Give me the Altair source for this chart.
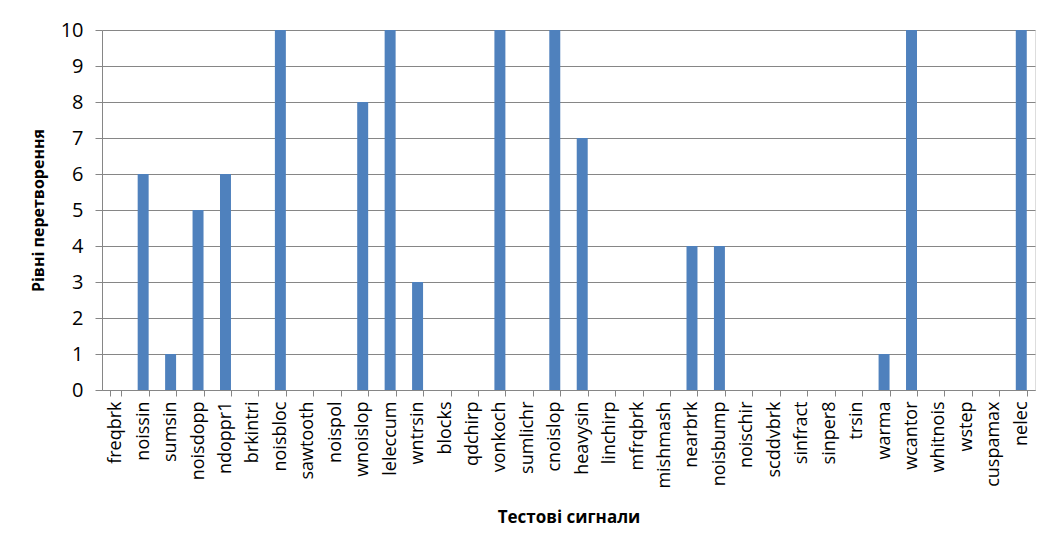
import altair as alt
import pandas as pd

signals = ["freqbrk", "noissin", "sumsin", "noisdopp", "ndoppr1", "brkintri", "noisbloc",
           "sawtooth", "noispol", "wnoislop", "leleccum", "wntrsin", "blocks", "qdchirp",
           "vonkoch", "sumlichr", "cnoislop", "heavysin", "linchirp", "mfrqbrk", "mishmash",
           "nearbrk", "noisbump", "noischir", "scddvbrk", "sinfract", "sinper8", "trsin",
           "warma", "wcantor", "whitnois", "wstep", "cuspamax", "nelec"]
levels = [0, 6, 1, 5, 6, 0, 10, 0, 0, 8, 10, 3, 0, 0, 10, 0, 10, 7, 0, 0, 0,
          4, 4, 0, 0, 0, 0, 0, 1, 10, 0, 0, 0, 10]
y_ticks = list(range(0, 11))

df = pd.DataFrame({"signal": signals, "level": levels})

FONT = "Open Sans"

chart = alt.Chart(df).mark_bar(color="#4F81BD").encode(
    x=alt.X("signal:N", sort=signals,
            scale=alt.Scale(paddingInner=0.6, paddingOuter=0.3),
            axis=alt.Axis(title="Тестові сигнали", labelAngle=-90, labelAlign="right",
                          labelBaseline="middle", labelFontSize=18, labelFont=FONT,
                          labelColor="#000000", titleFont=FONT, titleFontSize=17,
                          titleFontWeight="bold", titleColor="#000000", titlePadding=21,
                          tickBand="extent", tickSize=6, tickColor="#868686",
                          domainColor="#868686", labelPadding=5, grid=False,
                          labelLimit=200)),
    y=alt.Y("level:Q", scale=alt.Scale(domain=[0, 10], nice=False),
            axis=alt.Axis(title="Рівні перетворення", values=y_ticks, labelFontSize=20,
                          labelFont=FONT, labelColor="#000000", titleFont=FONT,
                          titleFontSize=16, titleFontWeight="bold", titleColor="#000000",
                          titlePadding=14, tickSize=7, tickColor="#868686",
                          domainColor="#868686", gridColor="#868686", gridWidth=1,
                          labelPadding=12)),
).properties(
    width=933, height=360,
    autosize=alt.AutoSizeParams(type="none"),
    padding={"left": 94, "top": 22, "right": 6, "bottom": 152},
).configure_view(stroke=None).configure(background="#ffffff")

chart.save("out.html", embed_options={"renderer": "svg", "actions": False})
